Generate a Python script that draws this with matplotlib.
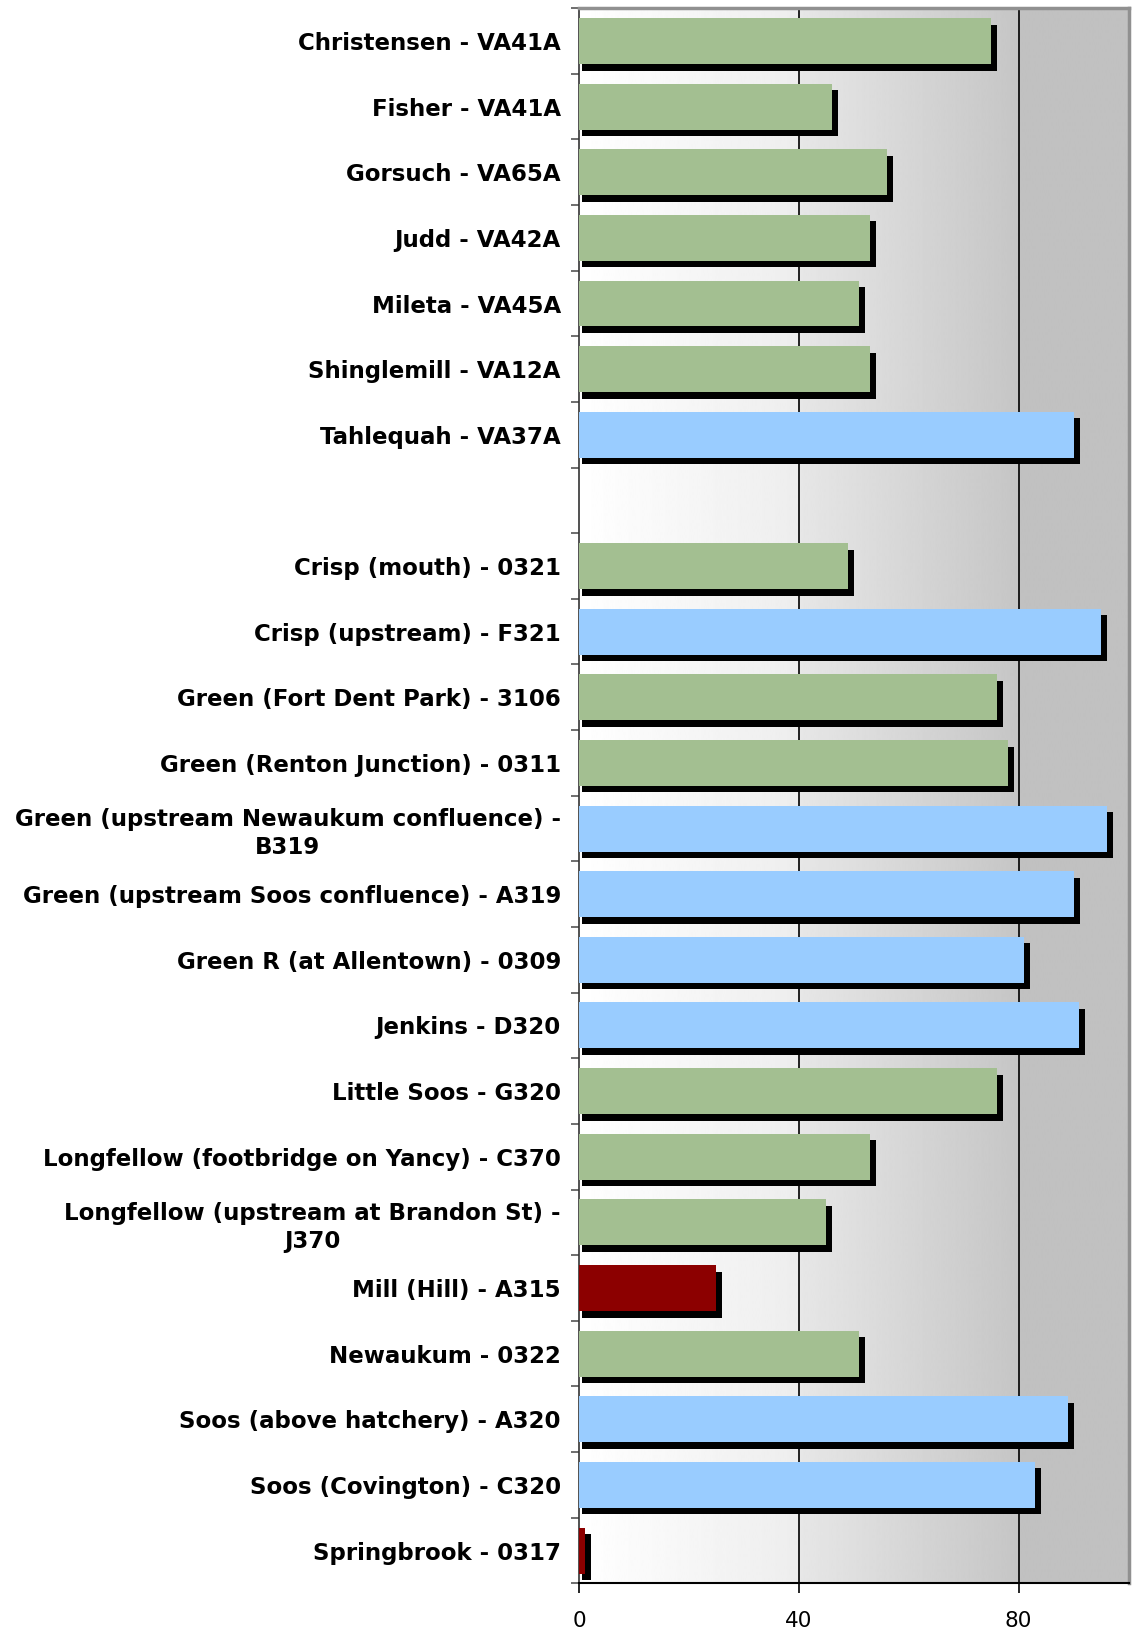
import numpy as np
import matplotlib
matplotlib.use("Agg")
import matplotlib.pyplot as plt
from matplotlib.patches import Rectangle

# data, top to bottom ("" is the empty spacer slot)
sites = [
    "Christensen - VA41A", "Fisher - VA41A", "Gorsuch - VA65A", "Judd - VA42A",
    "Mileta - VA45A", "Shinglemill - VA12A", "Tahlequah - VA37A", "",
    "Crisp (mouth) - 0321", "Crisp (upstream) - F321", "Green (Fort Dent Park) - 3106",
    "Green (Renton Junction) - 0311", "Green (upstream Newaukum confluence) -\nB319",
    "Green (upstream Soos confluence) - A319", "Green R (at Allentown) - 0309",
    "Jenkins - D320", "Little Soos - G320", "Longfellow (footbridge on Yancy) - C370",
    "Longfellow (upstream at Brandon St) -\nJ370", "Mill (Hill) - A315",
    "Newaukum - 0322", "Soos (above hatchery) - A320", "Soos (Covington) - C320",
    "Springbrook - 0317",
]
scores = [75, 46, 56, 53, 51, 53, 90, None,
          49, 95, 76, 78, 96, 90, 81, 91, 76, 53, 45, 25, 51, 89, 83, 1]
classes = ["fair", "fair", "fair", "fair", "fair", "fair", "good", None,
           "fair", "good", "fair", "fair", "good", "good", "good", "good", "fair",
           "fair", "fair", "poor", "fair", "good", "good", "poor"]
xticks = [0, 40, 80]

colors = {"good": "#99CCFF", "fair": "#A3BF91", "poor": "#8C0000"}

fig = plt.figure(figsize=(11.32, 16.34), dpi=100)
ax = fig.add_axes([0.5115, 0.031, 0.4855, 0.964])

n = len(sites)
ax.set_xlim(0, 100)
ax.set_ylim(n - 0.5, -0.5)

# background: three shaded bands
xs = np.linspace(0, 100, 1001)
shade = np.where(xs < 40, 1.0 - 0.07 * xs / 40,
                 np.where(xs < 80, 0.905 - 0.13 * (xs - 40) / 40, 0.755))
img = np.repeat(shade[None, :], 2, axis=0)
ax.imshow(img, cmap="gray", vmin=0, vmax=1, aspect="auto",
          extent=[0, 100, n - 0.5, -0.5], zorder=0, interpolation="bilinear")

for x in xticks[1:]:
    ax.axvline(x, color="black", lw=1.2, zorder=1)

h = 0.70
dx, dy = 1.1, 0.1
for i, (v, c) in enumerate(zip(scores, classes)):
    if v is None:
        continue
    ax.add_patch(Rectangle((0.6, i - h / 2 + dy), v + dx - 0.6, h,
                           color="black", zorder=2, lw=0))
    ax.add_patch(Rectangle((0, i - h / 2), v, h, color=colors[c], zorder=3, lw=0))

ax.set_yticks(range(n))
ax.set_yticklabels(sites, fontsize=16.5, fontweight="bold",
                   multialignment="center", linespacing=1.3)
ax.set_yticks(np.arange(-0.5, n, 1), minor=True)
ax.tick_params(axis="y", which="major", length=0, pad=13)
ax.tick_params(axis="y", which="minor", length=6, width=1.2, color="#555555")
ax.set_xticks(xticks)
ax.tick_params(axis="x", length=7, width=1.2, labelsize=15.5, pad=13)

for s in ["top", "right"]:
    ax.spines[s].set_color("#909090")
    ax.spines[s].set_linewidth(2.5)
ax.spines["left"].set_color("#333333")
ax.spines["left"].set_linewidth(1.2)
ax.spines["bottom"].set_color("black")
ax.spines["bottom"].set_linewidth(1.5)

fig.savefig("out.png", dpi=100)
